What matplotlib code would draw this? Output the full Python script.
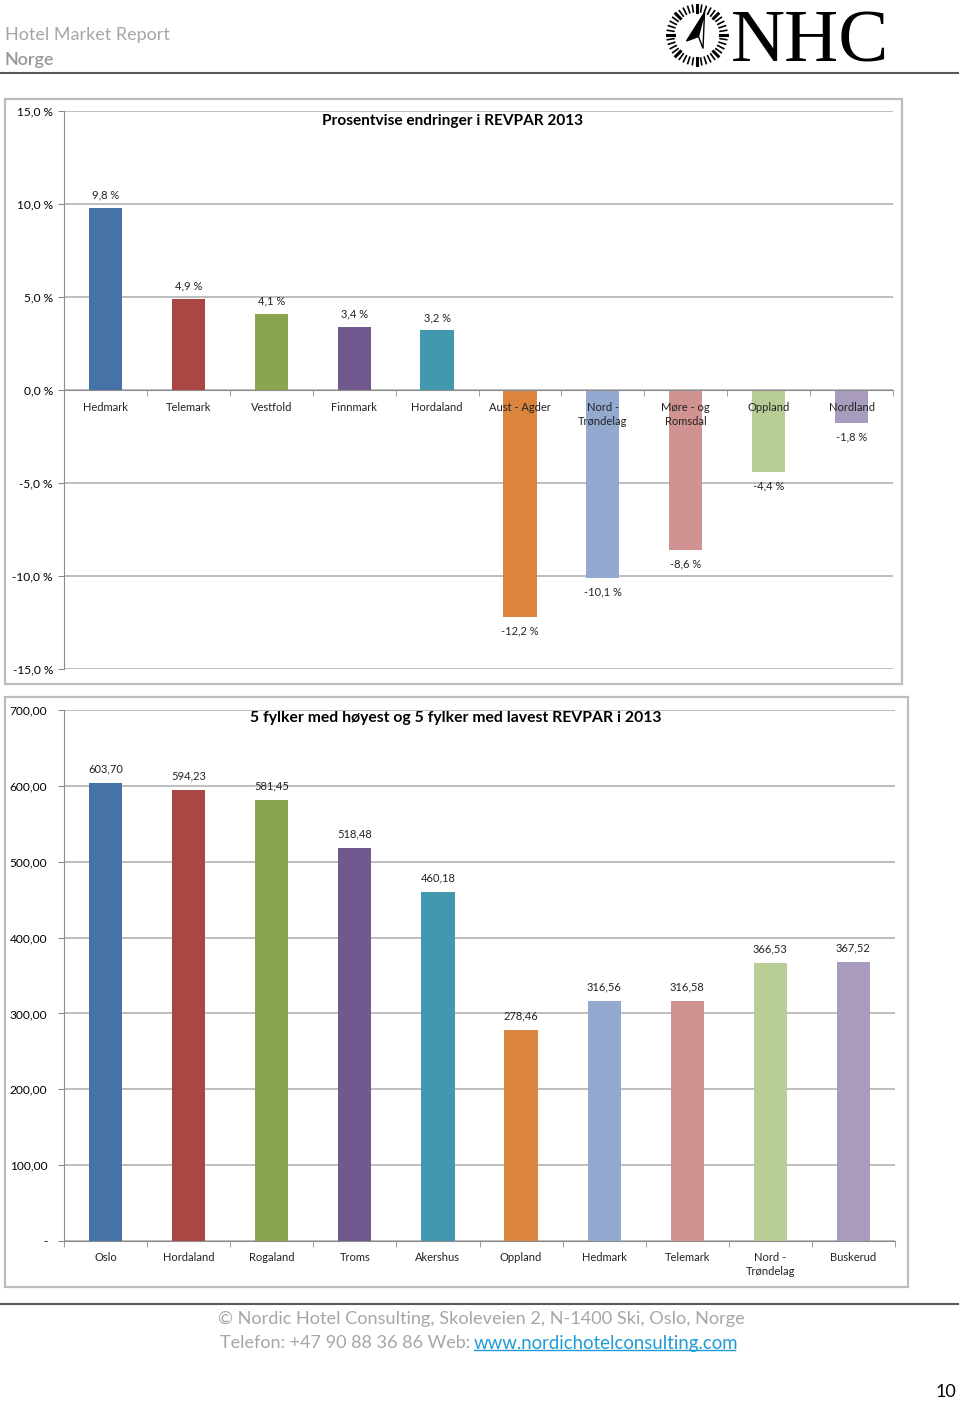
import numpy as np
import matplotlib
matplotlib.use("Agg")
import matplotlib.pyplot as plt
from matplotlib.patches import Rectangle, Polygon
from matplotlib.lines import Line2D

plt.rcParams['font.family'] = ['Lato', 'DejaVu Sans']

# --- data ---
endring_fylker = ['Hedmark', 'Telemark', 'Vestfold', 'Finnmark', 'Hordaland', 'Aust - Agder',
                  'Nord -\nTrøndelag', 'Møre - og\nRomsdal', 'Oppland', 'Nordland']
endring_pst = [9.8, 4.9, 4.1, 3.4, 3.2, -12.2, -10.1, -8.6, -4.4, -1.8]
endring_yticks = [-15, -10, -5, 0, 5, 10, 15]

revpar_fylker = ['Oslo', 'Hordaland', 'Rogaland', 'Troms', 'Akershus', 'Oppland',
                 'Hedmark', 'Telemark', 'Nord -\nTrøndelag', 'Buskerud']
revpar_2013 = [603.70, 594.23, 581.45, 518.48, 460.18, 278.46, 316.56, 316.58, 366.53, 367.52]
revpar_yticks = [0, 100, 200, 300, 400, 500, 600, 700]

farger = ['#4572A7', '#AA4643', '#89A54E', '#71588F', '#4198AF',
          '#DB843D', '#93A9CF', '#D19392', '#B9CD96', '#A99BBD']

W, H = 960, 1401
fig = plt.figure(figsize=(W / 100, H / 100), dpi=100)


def px(x0, y0, x1, y1):
    # pixel box (top-left origin) -> figure fraction rect
    return [x0 / W, 1 - y1 / H, (x1 - x0) / W, (y1 - y0) / H]


def ramme(x0, y0, x1, y1):
    fig.patches.append(Rectangle((x0 / W, 1 - y1 / H), (x1 - x0) / W, (y1 - y0) / H,
                                 transform=fig.transFigure, fill=False,
                                 edgecolor='#bdbdbd', linewidth=1.6))


def stil_akse(ax, n):
    for s in ['top', 'right']:
        ax.spines[s].set_visible(False)
    ax.spines['left'].set_color('#8c8c8c')
    ax.spines['bottom'].set_color('#8c8c8c')
    ax.set_axisbelow(True)
    ax.yaxis.grid(True, color='#b3b3b3', linewidth=1.2)
    ax.set_xlim(-0.5, n - 0.5)
    ax.set_xticks([])
    ax.set_xticks(np.arange(-0.5, n, 1.0), minor=True)
    ax.tick_params(axis='x', which='minor', length=4, color='#8c8c8c', labelbottom=False)
    ax.tick_params(axis='y', length=4, color='#8c8c8c', labelsize=8.6, pad=4)


# --- header ---
fig.text(5 / W, 1 - 35 / H, 'Hotel Market Report', fontsize=13, color='#a6a6a6', va='center')
fig.text(5 / W, 1 - 60 / H, 'Norge', fontsize=13, color='#999999', va='center', fontweight='semibold')
fig.add_artist(Line2D([0, 958 / W], [1 - 73 / H] * 2, color='#595959', lw=1.5))
fig.text(731 / W, 1 - 62 / H, 'NHC', fontsize=54, family='Liberation Serif',
         color='black', va='baseline', ha='left')

# compass logo
lax = fig.add_axes(px(664, 2, 730, 68))
lax.set_xlim(-1.1, 1.1)
lax.set_ylim(-1.1, 1.1)
lax.set_aspect('equal')
lax.axis('off')
for k, a in enumerate(np.linspace(0, 2 * np.pi, 40, endpoint=False)):
    lw = 2.2 if k % 5 == 0 else 1.2
    lax.plot([0.78 * np.cos(a), np.cos(a)], [0.78 * np.sin(a), np.sin(a)], color='black', lw=lw)
lax.add_patch(Polygon([[0.25, 0.75], [-0.35, -0.2], [0.05, -0.05]], closed=True, color='black'))
lax.add_patch(Polygon([[0.25, 0.75], [0.05, -0.05], [0.2, -0.45]], closed=True,
                      facecolor='white', edgecolor='black', lw=1))

# --- chart 1: prosentvise endringer ---
ramme(5, 99, 902, 684)
ax1 = fig.add_axes(px(64, 111, 893, 669))
stil_akse(ax1, len(endring_pst))
ax1.set_ylim(-15, 15)
ax1.set_yticks(endring_yticks)
ax1.set_yticklabels([f"{v:.1f} %".replace('.', ',') for v in endring_yticks])
ax1.spines['bottom'].set_position(('data', 0))
x1 = np.arange(len(endring_pst))
ax1.bar(x1, endring_pst, width=0.4, color=farger, zorder=1)
for i, v in enumerate(endring_pst):
    off = 5 if v >= 0 else -6
    ax1.annotate(f"{v:.1f} %".replace('.', ','), (i, v), xytext=(0, off), textcoords='offset points',
                 ha='center', va='bottom' if v >= 0 else 'top', fontsize=8, color='#222222')
    ax1.annotate(endring_fylker[i], (i, 0), xytext=(0, -8.5), textcoords='offset points',
                 ha='center', va='top', fontsize=8, color='#222222', zorder=5,
                 linespacing=1.4)
ax1.text(0.469, 0.995, 'Prosentvise endringer i REVPAR 2013',
         transform=ax1.transAxes, ha='center', va='top', fontsize=11.1, fontweight='bold')

# --- chart 2: REVPAR 2013 ---
ramme(5, 697, 908, 1287)
ax2 = fig.add_axes(px(64, 710, 895, 1241))
stil_akse(ax2, len(revpar_2013))
ax2.set_ylim(0, 700)
ax2.set_yticks(revpar_yticks)
ax2.set_yticklabels(['-' if v == 0 else f"{v:.2f}".replace('.', ',') for v in revpar_yticks])
ax2.tick_params(axis='y', pad=8)
x2 = np.arange(len(revpar_2013))
ax2.bar(x2, revpar_2013, width=0.4, color=farger, zorder=1)
for i, v in enumerate(revpar_2013):
    ax2.annotate(f"{v:.2f}".replace('.', ','), (i, v), xytext=(0, 6), textcoords='offset points',
                 ha='center', va='bottom', fontsize=8, color='#222222')
    ax2.annotate(revpar_fylker[i], (i, 0), xytext=(0, -8), textcoords='offset points',
                 ha='center', va='top', fontsize=8, color='#222222', linespacing=1.35)
ax2.text(0.472, 0.998, '5 fylker med høyest og 5 fylker med lavest REVPAR i 2013',
         transform=ax2.transAxes, ha='center', va='top', fontsize=11.3, fontweight='bold')

# --- footer ---
fig.add_artist(Line2D([0, 958 / W], [1 - 1304 / H] * 2, color='#595959', lw=1.5))
fig.text(481 / W, 1 - 1319 / H, '© Nordic Hotel Consulting, Skoleveien 2, N-1400 Ski, Oslo, Norge',
         fontsize=13.1, color='#a6a6a6', ha='center', va='center')
fig.text(470 / W, 1 - 1343 / H, 'Telefon: +47 90 88 36 86 Web:', fontsize=13, color='#a6a6a6',
         ha='right', va='center')
lenke = fig.text(474 / W, 1 - 1343 / H, 'www.nordichotelconsulting.com', fontsize=13.4,
                 color='#1f9bd6', ha='left', va='center')
fig.text(946 / W, 1 - 1392 / H, '10', fontsize=13, color='black', ha='center', va='center')

fig.canvas.draw()
bb = lenke.get_window_extent().transformed(fig.transFigure.inverted())
fig.add_artist(Line2D([bb.x0, bb.x1 - 4 / W], [bb.y0 + 0.001] * 2, color='#1f9bd6', lw=1))

fig.savefig('out.png', dpi=100)
